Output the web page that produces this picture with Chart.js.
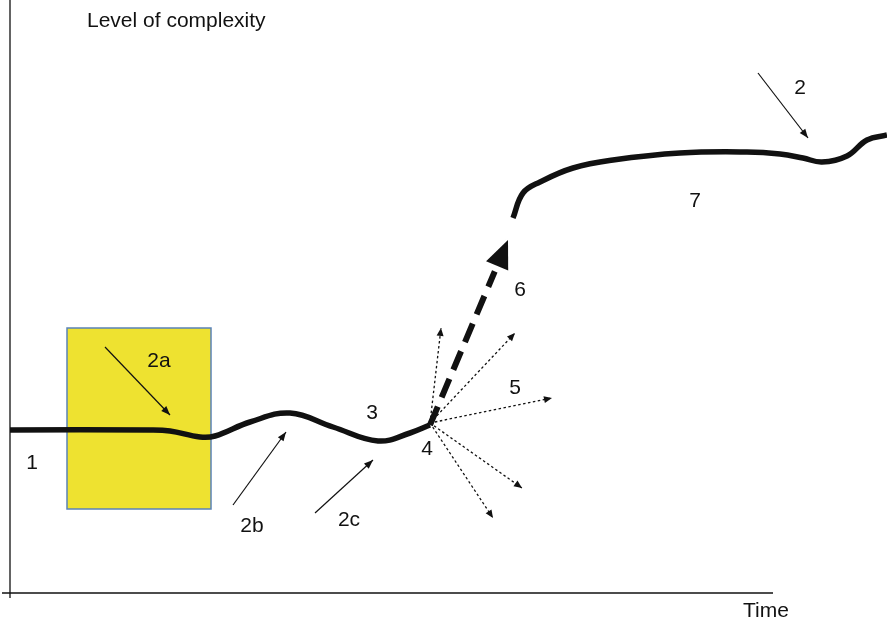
<!DOCTYPE html>
<html>
<head>
<meta charset="utf-8">
<script src="https://cdn.jsdelivr.net/npm/chart.js@4"></script>
<style>
  html, body { margin: 0; padding: 0; background: #fff; }
  #wrap { width: 887px; height: 624px; position: relative; }
</style>
</head>
<body>
<div id="wrap"><canvas id="chart"></canvas></div>
<script>
// time runs 0..887, complexity 0..624 (arbitrary units of the sketch)
const timeRange = [0, 887]
const complexityRange = [0, 624]

// main path before the branching point (stages 1 - 4)
const earlyTime = [10, 150, 170, 200, 215, 250, 290, 333, 378, 410, 430]
const earlyLevel = [194, 194, 193, 187, 188, 202, 211, 197, 183, 191, 199]

// path after the jump (stage 7)
const lateTime = [513, 523, 540, 573, 613, 680, 747, 780, 803, 822, 847, 867, 887]
const lateLevel = [406, 431, 442, 456, 464, 471, 472, 470, 466, 462, 468, 484, 489]

// the jump (stage 6), dashed
const jumpTime = [430, 508]
const jumpLevel = [199, 384]

// possible directions at the branching point (stage 5), dotted
const branchStart = [430, 201]
const branchEnds = [[441, 296], [515, 291], [552, 226], [522, 136], [493, 106]]

// perturbation arrows
const pushArrows = [
  [[105, 277], [170, 209]],
  [[233, 119], [286, 192]],
  [[315, 111], [373, 164]],
  [[758, 551], [808, 486]],
]

// highlighted box around the first perturbation
const boxTime = [67, 211]
const boxLevel = [115, 296]

// axes
const yAxisLine = [[10, 624], [10, 26]]
const xAxisLine = [[2, 31], [773, 31]]

const labels = [
  { text: "Level of complexity", at: [87, 603], align: "left" },
  { text: "Time", at: [766, 13] },
  { text: "1", at: [32, 161] },
  { text: "2a", at: [159, 263] },
  { text: "2b", at: [252, 98] },
  { text: "2c", at: [349, 104] },
  { text: "3", at: [372, 211] },
  { text: "4", at: [427, 175] },
  { text: "5", at: [515, 236] },
  { text: "6", at: [520, 334] },
  { text: "7", at: [695, 423] },
  { text: "2", at: [800, 536] },
]

const toPoints = (xs, ys) => xs.map((x, i) => ({ x: x, y: ys[i] }))
const pairPoints = (pairs) => pairs.map((p) => ({ x: p[0], y: p[1] }))

const datasets = [
  {
    data: pairPoints(yAxisLine),
    borderColor: "#111",
    borderWidth: 1.3,
  },
  {
    data: pairPoints(xAxisLine),
    borderColor: "#111",
    borderWidth: 1.3,
  },
  {
    data: toPoints(earlyTime, earlyLevel),
    borderColor: "#111",
    borderWidth: 5.5,
    tension: 0.4,
  },
  {
    data: toPoints(lateTime, lateLevel),
    borderColor: "#111",
    borderWidth: 5.5,
    tension: 0.4,
  },
  {
    data: toPoints(jumpTime, jumpLevel),
    borderColor: "#111",
    borderWidth: 6,
    borderDash: [20, 10],
    arrow: { length: 28, width: 24, trim: 34 },
  },
]

branchEnds.forEach((end) => {
  datasets.push({
    data: pairPoints([branchStart, end]),
    borderColor: "#111",
    borderWidth: 1.3,
    borderDash: [2.5, 2.5],
    arrow: { length: 8, width: 7 },
  })
})

pushArrows.forEach((a) => {
  datasets.push({
    data: pairPoints(a),
    borderColor: "#111",
    borderWidth: 1.2,
    arrow: { length: 9, width: 7 },
  })
})

const boxPlugin = {
  id: "box",
  beforeDatasetsDraw(chart) {
    const { ctx, scales } = chart
    const x0 = scales.x.getPixelForValue(boxTime[0])
    const x1 = scales.x.getPixelForValue(boxTime[1])
    const y0 = scales.y.getPixelForValue(boxLevel[1])
    const y1 = scales.y.getPixelForValue(boxLevel[0])
    ctx.save()
    ctx.fillStyle = "#EEE230"
    ctx.strokeStyle = "#5A82B8"
    ctx.lineWidth = 1.5
    ctx.fillRect(x0, y0, x1 - x0, y1 - y0)
    ctx.strokeRect(x0, y0, x1 - x0, y1 - y0)
    ctx.restore()
  },
}

const arrowPlugin = {
  id: "arrows",
  afterDatasetsDraw(chart) {
    const ctx = chart.ctx
    chart.data.datasets.forEach((ds, i) => {
      if (!ds.arrow) return
      const pts = chart.getDatasetMeta(i).data
      const tip = pts[pts.length - 1]
      const prev = pts[pts.length - 2]
      const ang = Math.atan2(tip.y - prev.y, tip.x - prev.x)
      const L = ds.arrow.length
      const W = ds.arrow.width / 2
      ctx.save()
      if (ds.arrow.trim) {
        // clear the dashes under and just before the head
        ctx.strokeStyle = "#fff"
        ctx.lineWidth = ds.borderWidth + 2
        ctx.beginPath()
        ctx.moveTo(tip.x, tip.y)
        ctx.lineTo(tip.x - ds.arrow.trim * Math.cos(ang), tip.y - ds.arrow.trim * Math.sin(ang))
        ctx.stroke()
      }
      ctx.fillStyle = ds.borderColor
      ctx.beginPath()
      ctx.moveTo(tip.x, tip.y)
      ctx.lineTo(tip.x - L * Math.cos(ang) + W * Math.sin(ang), tip.y - L * Math.sin(ang) - W * Math.cos(ang))
      ctx.lineTo(tip.x - L * Math.cos(ang) - W * Math.sin(ang), tip.y - L * Math.sin(ang) + W * Math.cos(ang))
      ctx.closePath()
      ctx.fill()
      ctx.restore()
    })
  },
}

const labelPlugin = {
  id: "labels",
  afterDatasetsDraw(chart) {
    const { ctx, scales } = chart
    ctx.save()
    ctx.fillStyle = "#111"
    ctx.font = "21px 'Liberation Sans', Arial, sans-serif"
    ctx.textBaseline = "middle"
    labels.forEach((l) => {
      ctx.textAlign = l.align || "center"
      ctx.fillText(l.text, scales.x.getPixelForValue(l.at[0]), scales.y.getPixelForValue(l.at[1]))
    })
    ctx.restore()
  },
}

new Chart(document.getElementById("chart"), {
  type: "line",
  data: { datasets: datasets },
  options: {
    responsive: true,
    maintainAspectRatio: false,
    animation: false,
    layout: { padding: 0 },
    elements: { point: { radius: 0 }, line: { fill: false, tension: 0 } },
    scales: {
      x: { type: "linear", min: timeRange[0], max: timeRange[1], display: false },
      y: { type: "linear", min: complexityRange[0], max: complexityRange[1], display: false },
    },
    plugins: { legend: { display: false }, tooltip: { enabled: false } },
  },
  plugins: [boxPlugin, arrowPlugin, labelPlugin],
})
</script>
</body>
</html>
